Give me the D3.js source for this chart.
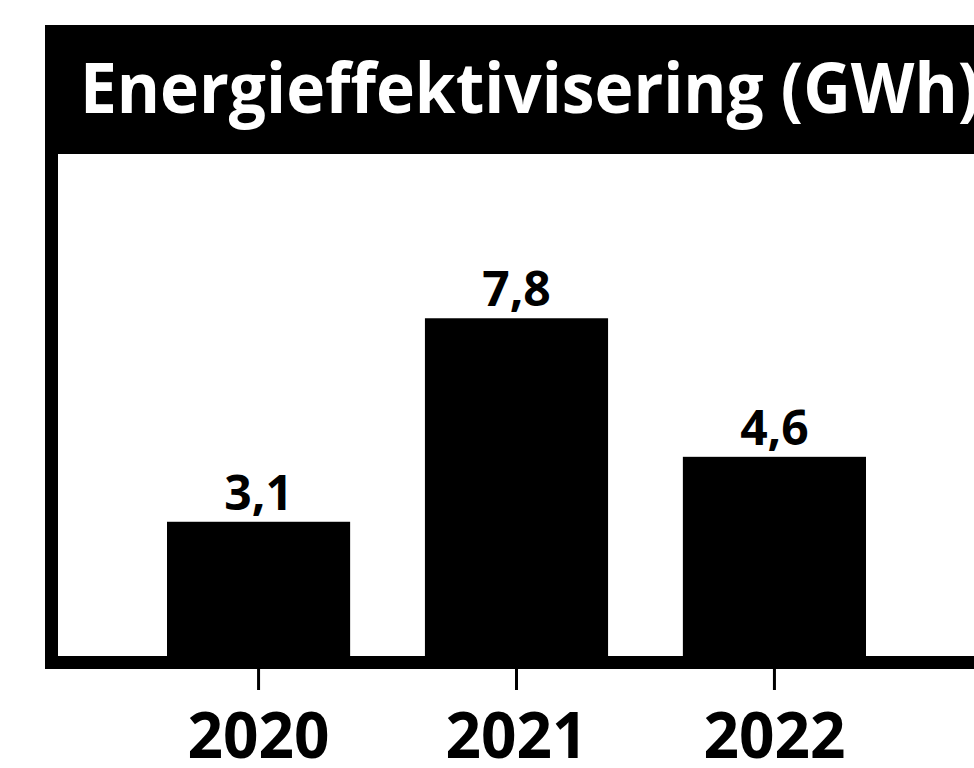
<!DOCTYPE html>
<html>
<head>
<meta charset="utf-8">
<script src="https://cdn.jsdelivr.net/npm/d3@7"></script>
<style>
  html, body { margin: 0; padding: 0; background: #ffffff; }
  svg { display: block; }
</style>
</head>
<body>
<svg id="chart" width="974" height="768"></svg>
<script>
const title = "Energieffektivisering (GWh)";
const categories = ["2020", "2021", "2022"];
const values = [3.1, 7.8, 4.6];
const valueLabels = ["3,1", "7,8", "4,6"];

const svg = d3.select("#chart");
const font = "'Open Sans', 'Noto Sans', sans-serif";

// Frame
svg.append("rect").attr("x", 45).attr("y", 25).attr("width", 960).attr("height", 644).attr("fill", "#000");
svg.append("rect").attr("x", 58).attr("y", 154).attr("width", 940).attr("height", 502).attr("fill", "#fff");

// Title
svg.append("text")
  .attr("x", 80).attr("y", 113)
  .attr("fill", "#fff")
  .attr("font-family", font)
  .attr("font-weight", 700)
  .attr("font-size", 70)
  .attr("textLength", 900)
  .attr("lengthAdjust", "spacingAndGlyphs")
  .text(title);

// Scales
const x = d3.scaleBand().domain(categories).range([167, 866]).paddingInner(0.29).paddingOuter(0);
const y = d3.scaleLinear().domain([0, 10]).range([656, 223]);

// Bars
svg.append("g").selectAll("rect")
  .data(values)
  .join("rect")
  .attr("x", (d, i) => x(categories[i]))
  .attr("y", d => y(d))
  .attr("width", x.bandwidth())
  .attr("height", d => y(0) - y(d))
  .attr("fill", "#000");

// Value labels
svg.append("g").selectAll("text")
  .data(values)
  .join("text")
  .attr("x", (d, i) => x(categories[i]) + x.bandwidth() / 2)
  .attr("y", d => y(d) - 12)
  .attr("text-anchor", "middle")
  .attr("font-family", font)
  .attr("font-weight", 700)
  .attr("font-size", 48)
  .attr("fill", "#000")
  .text((d, i) => valueLabels[i]);

// X axis (ticks and labels)
const xAxis = d3.axisBottom(x).tickSize(22).tickPadding(26).tickSizeOuter(0);
const gx = svg.append("g").attr("transform", "translate(0,668)").call(xAxis);
gx.select(".domain").remove();
gx.selectAll(".tick line").attr("stroke", "#000").attr("stroke-width", 3);
gx.selectAll(".tick text")
  .attr("y", 90)
  .attr("dy", 0)
  .attr("font-family", font)
  .attr("font-weight", 700)
  .attr("font-size", 64)
  .attr("textLength", 142)
  .attr("lengthAdjust", "spacingAndGlyphs")
  .attr("fill", "#000");
</script>
</body>
</html>
